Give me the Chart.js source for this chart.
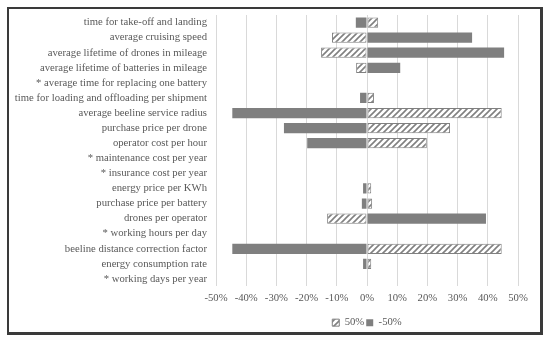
<!DOCTYPE html>
<html>
<head>
<meta charset="utf-8">
<script src="https://cdn.jsdelivr.net/npm/chart.js@4.4.0/dist/chart.umd.min.js"></script>
<style>
  body { margin: 0; background: #fff; }
  #box { position: absolute; left: 7px; top: 7px; width: 531px; height: 323px; border: 2px solid #3a3a3a; border-right-width: 3px; border-bottom-width: 3px; }
  #c { display: block; }
</style>
</head>
<body>
<div id="box"><canvas id="c" width="531" height="323"></canvas></div>
<script>
// parameters (categories) and the two scenarios
var parameters = [
    'time for take-off and landing',
    'average cruising speed',
    'average lifetime of drones in mileage',
    'average lifetime of batteries in mileage',
    '* average time for replacing one battery',
    'time for loading and offloading per shipment',
    'average beeline service radius',
    'purchase price per drone',
    'operator cost per hour',
    '* maintenance cost per year',
    '* insurance cost per year',
    'energy price per KWh',
    'purchase price per battery',
    'drones per operator',
    '* working hours per day',
    'beeline distance correction factor',
    'energy consumption rate',
    '* working days per year'
];
var plus50 = [3.7, -11.6, -15.2, -3.6, 0, 2.3, 44.6, 27.5, 19.8, 0, 0, 1.4, 1.7, -13.2, 0, 44.6, 1.4, 0];
var minus50 = [-3.7, 34.8, 45.4, 11.0, 0, -2.3, -44.6, -27.5, -19.8, 0, 0, -1.3, -1.7, 39.4, 0, -44.6, -1.3, 0];
var xTicks = [-50, -40, -30, -20, -10, 0, 10, 20, 30, 40, 50];

var textColor = '#595959';
var solidGray = '#7f7f7f';
var serif = { family: 'Liberation Serif', size: 10.7 };

// white fill with diagonal gray stripes
function hatch() {
    var p = document.createElement('canvas');
    p.width = 6; p.height = 6;
    var g = p.getContext('2d');
    g.fillStyle = '#fff';
    g.fillRect(0, 0, 6, 6);
    g.strokeStyle = '#808080';
    g.lineWidth = 1.6;
    g.beginPath();
    g.moveTo(-1, 7); g.lineTo(7, -1);
    g.moveTo(-4, 4); g.lineTo(4, -4);
    g.moveTo(2, 10); g.lineTo(10, 2);
    g.stroke();
    return g.createPattern(p, 'repeat');
}

// centre the legend under the plot area like the original
var legendUnderPlot = {
    id: 'legendUnderPlot',
    afterLayout: function (chart) {
        var lg = chart.legend;
        if (lg) {
            lg.left = chart.chartArea.left;
            lg.right = chart.chartArea.right;
            lg.top += 6;
            lg.bottom += 6;
        }
    }
};

var ctx = document.getElementById('c').getContext('2d');
var chart = new Chart(ctx, {
    type: 'bar',
    data: {
        labels: parameters,
        datasets: [{
            label: '50%',
            data: plus50,
            backgroundColor: hatch(),
            borderColor: '#808080',
            borderWidth: 1,
            borderSkipped: false
        }, {
            label: '-50%',
            data: minus50,
            backgroundColor: solidGray,
            borderWidth: 0
        }]
    },
    options: {
        indexAxis: 'y',
        responsive: false,
        animation: false,
        layout: { padding: { left: 0, right: 22, top: 6, bottom: 0 } },
        datasets: {
            bar: { categoryPercentage: 0.68, barPercentage: 1 }
        },
        scales: {
            x: {
                stacked: true,
                min: -50,
                max: 50,
                afterBuildTicks: function (scale) {
                    scale.ticks = xTicks.map(function (v) { return { value: v }; });
                },
                ticks: {
                    color: textColor,
                    font: serif,
                    padding: 5,
                    callback: function (v) { return v + '%'; }
                },
                grid: { color: '#d9d9d9', drawTicks: false },
                border: { display: false }
            },
            y: {
                stacked: true,
                afterFit: function (scale) {
                    scale.width = 207;
                    scale.paddingTop = 0;
                    scale.paddingBottom = 0;
                },
                ticks: {
                    color: textColor,
                    font: serif,
                    padding: 9,
                    autoSkip: false
                },
                grid: { display: false, drawTicks: false },
                border: { display: false }
            }
        },
        plugins: {
            legend: {
                position: 'bottom',
                labels: {
                    color: textColor,
                    font: serif,
                    boxWidth: 7,
                    boxHeight: 7,
                    padding: 2
                }
            },
            tooltip: { enabled: false }
        }
    },
    plugins: [legendUnderPlot]
});
</script>
</body>
</html>
